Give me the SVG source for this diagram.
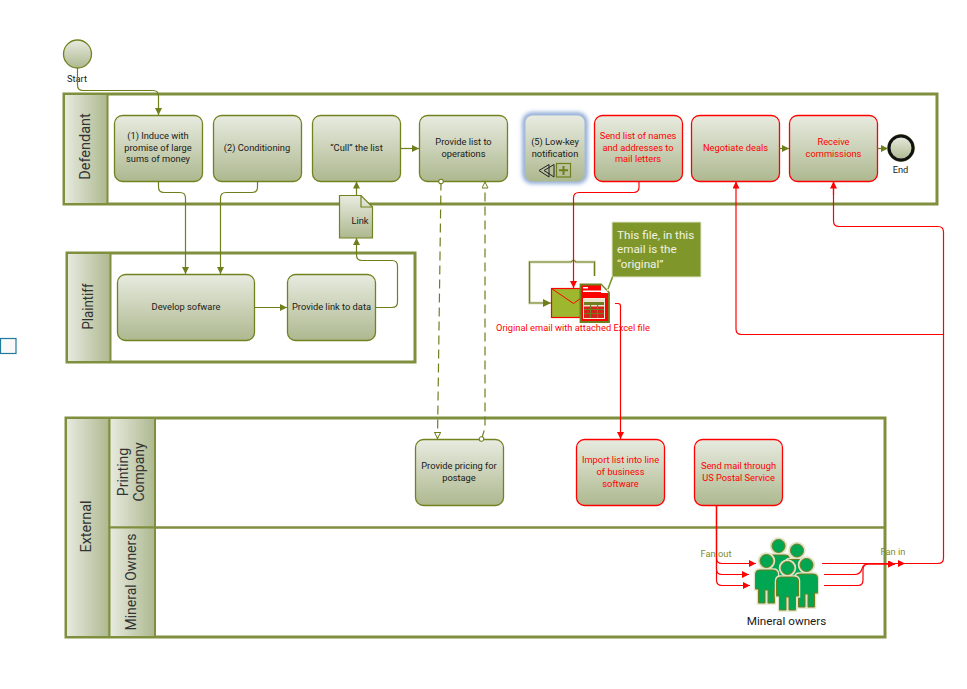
<svg xmlns="http://www.w3.org/2000/svg" xmlns:xlink="http://www.w3.org/1999/xlink" width="967" height="689" viewBox="0 0 967 689">
<style>
text{font-family:Roboto,"Liberation Sans",sans-serif;font-size:9.300px;fill:#1a1a1a;text-anchor:middle}
.task{fill:url(#gv);stroke:#72821f;stroke-width:1.300}
.red{stroke:#f00}
.rt{fill:#f00}
.pool{fill:#fff;stroke:#808f3e;stroke-width:3}
.head{fill:url(#gh);stroke:#808f3e;stroke-width:2}
.ht{font-size:14.500px;fill:#333}
.o{fill:none;stroke:#6f7f1e;stroke-width:1.200}
.r{fill:none;stroke:#f00;stroke-width:1.200}
.d{fill:none;stroke:#6f7f1e;stroke-width:1.200;stroke-dasharray:9 5}
.halo{fill:none;stroke:#dfe3c8;stroke-width:3}
.p{fill:#00a651;stroke:#6f7f1e;stroke-width:1}
</style>
<defs>
<linearGradient id="gv" x1="0" y1="0" x2="0" y2="1"><stop offset="0" stop-color="#e8ebe0"/><stop offset="1" stop-color="#adb88f"/></linearGradient>
<linearGradient id="gh" x1="0" y1="0" x2="1" y2="0"><stop offset="0" stop-color="#e8ebe0"/><stop offset="1" stop-color="#adb88f"/></linearGradient>
<marker id="ao" markerWidth="9" markerHeight="8" refX="7" refY="3.500" orient="auto" markerUnits="userSpaceOnUse"><path d="M0 0L7 3.500L0 7z" fill="#6f7f1e"/></marker>
<marker id="ar" markerWidth="9" markerHeight="8" refX="7" refY="3.500" orient="auto" markerUnits="userSpaceOnUse"><path d="M0 0L7 3.500L0 7z" fill="#f00"/></marker>
<marker id="abig" markerWidth="10" markerHeight="10" refX="8" refY="4" orient="auto" markerUnits="userSpaceOnUse"><path d="M0 0L8 4L0 8z" fill="#6f7f1e"/></marker>
<marker id="tri" markerWidth="9" markerHeight="9" refX="7" refY="3.500" orient="auto" markerUnits="userSpaceOnUse"><path d="M0.500 0.500L6.500 3.500L0.500 6.500z" fill="#fff" stroke="#6f7f1e"/></marker>
<marker id="circ" markerWidth="7" markerHeight="7" refX="3.500" refY="3.500" orient="auto" markerUnits="userSpaceOnUse"><circle cx="3.500" cy="3.500" r="2.300" fill="#fff" stroke="#6f7f1e"/></marker>
<filter id="glow" x="-30%" y="-30%" width="160%" height="160%"><feGaussianBlur stdDeviation="2"/></filter>
<g id="person">
<circle cx="0" cy="0" r="7" fill="none" stroke="#dfe3c8" stroke-width="3.500"/>
<path fill="none" stroke="#dfe3c8" stroke-width="3.500" d="M-7 9H7Q11 9 11 13V28H8V42H1.500V29H-1.500V42H-8V28H-11V13Q-11 9 -7 9z"/>
<circle cx="0" cy="0" r="6.500" class="p"/>
<path class="p" d="M-7 9H7Q11 9 11 13V28H8V42H1.500V29H-1.500V42H-8V28H-11V13Q-11 9 -7 9z"/>
</g>
</defs>

<rect x="0.500" y="338.500" width="15.500" height="15" fill="#f9f9f9" stroke="#1f7a9c" stroke-width="1.200"/>

<g id="pool-defendant">
<rect class="pool" x="64" y="94" width="873" height="110"/>
<rect class="head" x="64" y="94" width="43.500" height="110"/>
<text class="ht" transform="translate(90 146.500) rotate(-90)">Defendant</text>
</g>
<g id="pool-plaintiff">
<rect class="pool" x="67" y="253" width="348" height="109"/>
<rect class="head" x="67" y="253" width="43.500" height="109"/>
<text class="ht" transform="translate(92.500 306.500) rotate(-90)" textLength="46" lengthAdjust="spacingAndGlyphs">Plaintiff</text>
</g>
<g id="pool-external">
<rect class="pool" x="66" y="418" width="819" height="219"/>
<rect class="head" x="66" y="418" width="43.500" height="219"/>
<rect class="head" x="109.500" y="418" width="45.500" height="109.500"/>
<rect class="head" x="109.500" y="527.500" width="45.500" height="109.500"/>
<line x1="155" y1="527.500" x2="885" y2="527.500" stroke="#808f3e" stroke-width="2.500"/>
<text class="ht" transform="translate(91 526.500) rotate(-90)">External</text>
<text class="ht" transform="translate(127.500 472) rotate(-90)" style="font-size:14px">Printing</text>
<text class="ht" transform="translate(144 472) rotate(-90)" style="font-size:14px">Company</text>
<text class="ht" transform="translate(136 582) rotate(-90)" style="font-size:14px">Mineral Owners</text>
</g>

<g id="start"><circle cx="77.500" cy="54" r="14" fill="url(#gv)" stroke="#72821f" stroke-width="1.300"/><text x="77" y="82">Start</text></g>
<g id="end"><circle cx="901" cy="148" r="13.500" fill="none" stroke="#8c9a55" stroke-width="1"/><circle cx="901" cy="148" r="12" fill="url(#gv)" stroke="#111" stroke-width="3"/><text x="900.500" y="173">End</text></g>

<g id="task-induce"><rect class="task" x="114.500" y="115.500" width="88" height="66" rx="8"/><text x="158" y="139">(1) Induce with</text><text x="158" y="151">promise of large</text><text x="158" y="162">sums of money</text></g>
<g id="task-conditioning"><rect class="task" x="213.500" y="115.500" width="88" height="66" rx="8"/><text x="257" y="151">(2) Conditioning</text></g>
<g id="task-cull"><rect class="task" x="312.500" y="115.500" width="88" height="66" rx="8"/><text x="356.500" y="151">“Cull” the list</text></g>
<g id="task-operations"><rect class="task" x="419.500" y="115.500" width="88" height="66" rx="8"/><text x="463.500" y="145">Provide list to</text><text x="463.500" y="157">operations</text></g>
<g id="task-notification">
<rect x="525" y="115" width="60" height="66" rx="7" fill="none" stroke="#7f9fd0" stroke-width="5" filter="url(#glow)"/>
<rect x="525.500" y="115.500" width="59" height="66" rx="7" fill="url(#gv)"/>
<text x="555" y="145">(5) Low-key</text><text x="555" y="157">notification</text>
<path d="M549 164.500L539 170.500L549 177zM554 164.500L544 170.500L554 177z" fill="none" stroke="#222" stroke-width="1"/>
<rect x="556.500" y="163.500" width="14" height="13.500" fill="none" stroke="#6f7f1e" stroke-width="1.200"/>
<path d="M563.500 166V175M559 170.300H568" stroke="#6f7f1e" stroke-width="2"/>
</g>
<g id="task-send-list"><rect class="task red" x="594.500" y="115.500" width="88" height="66" rx="8"/><text class="rt" x="638" y="139">Send list of names</text><text class="rt" x="638" y="151">and addresses to</text><text class="rt" x="638" y="162">mail letters</text></g>
<g id="task-negotiate"><rect class="task red" x="691.500" y="115.500" width="88" height="66" rx="8"/><text class="rt" x="735.500" y="151">Negotiate deals</text></g>
<g id="task-commissions"><rect class="task red" x="789.500" y="115.500" width="88" height="66" rx="8"/><text class="rt" x="833.500" y="145">Receive</text><text class="rt" x="833.500" y="157">commissions</text></g>
<g id="task-develop"><rect class="task" x="117.500" y="274.500" width="137" height="66" rx="8"/><text x="186" y="310">Develop sofware</text></g>
<g id="task-link-data"><rect class="task" x="287.500" y="274.500" width="88" height="66" rx="8"/><text x="331.500" y="310">Provide link to data</text></g>
<g id="task-pricing"><rect class="task" x="415.500" y="439.500" width="88" height="66" rx="8"/><text x="459" y="469">Provide pricing for</text><text x="459" y="481">postage</text></g>
<g id="task-import"><rect class="task red" x="576.500" y="439.500" width="88" height="66" rx="8"/><text class="rt" x="620.500" y="463">Import list into line</text><text class="rt" x="620.500" y="475">of business</text><text class="rt" x="620.500" y="487">software</text></g>
<g id="task-send-mail"><rect class="task red" x="694.500" y="439.500" width="88" height="66" rx="8"/><text class="rt" x="738.500" y="469">Send mail through</text><text class="rt" x="738.500" y="481">US Postal Service</text></g>

<g id="connectors">
<path class="o" marker-end="url(#ao)" d="M77.500 68V85Q77.500 90.500 83 90.500H153Q158.500 90.500 158.500 96V115"/>
<path class="o" marker-end="url(#ao)" d="M158.500 181.500V187Q158.500 192.500 164 192.500H180Q185.500 192.500 185.500 198V274"/>
<path class="o" marker-end="url(#ao)" d="M257.500 181.500V187Q257.500 192.500 252 192.500H226Q220.500 192.500 220.500 198V274"/>
<path class="o" marker-end="url(#ao)" d="M400.500 148.500H419"/>
<path class="o" marker-end="url(#ao)" d="M254.500 307.500H287"/>
<path class="o" marker-end="url(#ao)" d="M375.500 307.500H392Q397.500 307.500 397.500 302V266Q397.500 260.500 392 260.500H362Q356.500 260.500 356.500 255V238"/>
<path class="o" marker-end="url(#ao)" d="M356.500 195V181.500"/>
<path class="o" marker-end="url(#ao)" d="M779.500 148.500H789"/>
<path class="o" marker-end="url(#ao)" d="M877.500 148.500H888"/>
<path class="d" marker-start="url(#circ)" marker-end="url(#tri)" d="M441 181.500L437.500 439"/>
<path class="d" marker-start="url(#circ)" marker-end="url(#tri)" d="M481.500 439L485 428V181.500"/>
<path class="halo" d="M594.500 276V262H576Q573.500 259 571 262H529.500V303H545"/>
<path class="o" marker-end="url(#abig)" d="M594.500 276V262H576Q573.500 259 571 262H529.500V303H551"/>
<path class="r" marker-end="url(#ar)" d="M639 181.500V187Q639 192.500 633.500 192.500H579Q573.500 192.500 573.500 198V288"/>
<path class="r" marker-end="url(#ar)" d="M615 303.500H618Q620.500 303.500 620.500 306V439"/>
<path class="r" marker-end="url(#ar)" d="M716.500 505.500V558Q716.500 563.500 722 563.500H756"/>
<path class="r" marker-end="url(#ar)" d="M716.500 505.500V569Q716.500 574.500 722 574.500H749"/>
<path class="r" marker-end="url(#ar)" d="M716.500 505.500V580Q716.500 585.500 722 585.500H750"/>
<path class="r" marker-end="url(#ar)" d="M822 563.500H905"/>
<path class="r" marker-end="url(#ar)" d="M824 574.500H855Q860 574.500 862 569Q863 564 868 564H895"/>
<path class="r" marker-end="url(#ar)" d="M824 585.500H858Q863 585.500 863 580V570Q863 564 869 564H895"/>
<path class="r" d="M895 563.500H938Q943.500 563.500 943.500 558V232Q943.500 226.500 938 226.500H839Q833.500 226.500 833.500 221V181.500"/>
<path class="r" marker-end="url(#ar)" d="M833.500 195V181.500"/>
<path class="r" d="M943.500 334.500H741.500Q736 334.500 736 329V195"/>
<path class="r" marker-end="url(#ar)" d="M736 195V181.500"/>
</g>

<g id="data-link"><path d="M339.500 195.500H361L372.500 207V238H339.500z" fill="url(#gv)" stroke="#72821f" stroke-width="1.200"/><path d="M361 195.500V207H372.500" fill="none" stroke="#72821f" stroke-width="1.200"/><text x="360" y="224">Link</text></g>

<g id="email">
<rect x="551.500" y="288.500" width="29" height="29" fill="#9db72e" stroke="#f00" stroke-width="1.200"/>
<path d="M551.500 288.500L573.500 303.500L581 298" fill="none" stroke="#f00" stroke-width="1"/>
</g>
<g id="excel">
<path d="M580.500 284.500H601L609 292.500V322H580.500z" fill="#f00" stroke="#6f7f1e" stroke-width="1.800"/>
<path d="M601 285V293H608.500z" fill="#fff"/>
<rect x="583" y="287" width="5" height="1.500" fill="#fff"/><rect x="583" y="290.500" width="18" height="1.500" fill="#fff"/>
<rect x="583.500" y="298.500" width="21" height="20" fill="#e9e4cf" stroke="#f0ead5"/>
<rect x="584" y="302" width="20" height="3" fill="#6f7f1e"/>
<path d="M584 306.500H604V318H584z" fill="#d8201a"/>
<path d="M584 309.500H604M584 313.500H604M590.500 305V318M597.500 305V318" stroke="#6f7f1e" stroke-width="1.200"/>
</g>
<text class="rt" x="573" y="331">Original email with attached Excel file</text>

<g id="callout">
<path d="M612 222H701V277H613L607 291L608 290L612 277z" fill="#7f972a" stroke="#e3e6cc" stroke-width="1"/>
<path d="M612.500 277L608 289" stroke="#7f972a" stroke-width="1.500"/>
<text x="617" y="239" style="text-anchor:start;font-size:11.700px;fill:#f2f2e4">This file, in this</text>
<text x="617" y="253" style="text-anchor:start;font-size:11.700px;fill:#f2f2e4">email is the</text>
<text x="617" y="268" style="text-anchor:start;font-size:11.700px;fill:#f2f2e4">“original”</text>
</g>

<g id="mineral-owners">
<use xlink:href="#person" href="#person" x="778.500" y="546"/>
<use xlink:href="#person" href="#person" x="797" y="550.500"/>
<use xlink:href="#person" href="#person" x="766.500" y="561"/>
<use xlink:href="#person" href="#person" x="806.500" y="565"/>
<use xlink:href="#person" href="#person" x="787.500" y="568"/>
<text x="786.500" y="625" style="font-size:11.700px">Mineral owners</text>
</g>
<text x="716" y="557" style="fill:#7f8b2a">Fan out</text>
<text x="893" y="555" style="fill:#7f8b2a">Fan in</text>
</svg>
